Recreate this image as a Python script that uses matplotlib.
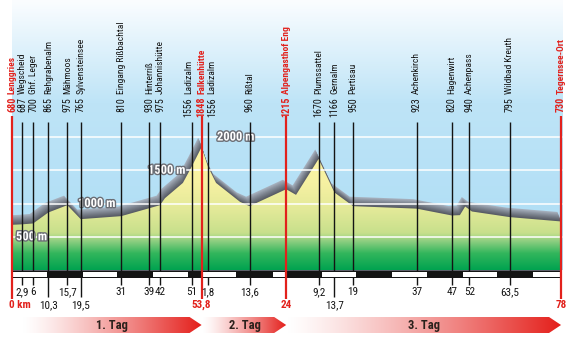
import matplotlib
matplotlib.use('Agg')
import numpy as np
import matplotlib.pyplot as plt
from matplotlib.patches import Polygon, Rectangle
import matplotlib.patheffects as pe
from matplotlib import font_manager as fm


def have_font(name):
    try:
        fm.findfont(fm.FontProperties(family=name), fallback_to_default=False)
        return True
    except Exception:
        return False


NARROW_CANDIDATES = ['Liberation Sans Narrow', 'Roboto Condensed', 'DejaVu Sans Condensed',
                     'Arial Narrow']
FONT_MAIN = None
for cand in NARROW_CANDIDATES:
    if have_font(cand):
        FONT_MAIN = cand
        break
if FONT_MAIN is None:
    FONT_MAIN = 'Liberation Sans' if have_font('Liberation Sans') else 'DejaVu Sans'
    FS = 0.86
else:
    FS = 1.0
plt.rcParams['font.family'] = [FONT_MAIN, 'DejaVu Sans']

# ---------------- data ----------------
stage_names = ['1. Tag', '2. Tag', '3. Tag']
stage_lengths = [53.8, 24, 78]

s1_km = [0, 2.9, 6, 10.3, 15.7, 19.5, 31, 39, 42, 51, 53.8]
s1_elev = [680, 687, 700, 865, 975, 765, 810, 930, 975, 1556, 1848]
s1_names = ['Lenggries', 'Wegscheid', 'Ghf. Leger', 'Rehgrabenalm', 'Mähmoos',
            'Sylvensteinsee', 'Eingang Rißbachtal', 'Hinterriß', 'Johannishütte',
            'Ladizalm', 'Falkenhütte']
s1_row = [2, 1, 1, 2, 1, 2, 1, 1, 1, 1, 2]

s2_km = [1.8, 13.6, 24]
s2_elev = [1556, 960, 1215]
s2_names = ['Ladizalm', 'Rißtal', 'Alpengasthof Eng']
s2_row = [1, 1, 2]

s3_km = [9.2, 13.7, 19, 37, 47, 52, 63.5, 78]
s3_elev = [1670, 1166, 950, 923, 820, 940, 795, 730]
s3_names = ['Plumssattel', 'Gernalm', 'Pertisau', 'Achenkirch', 'Hagenwirt',
            'Achenpass', 'Wildbad Kreuth', 'Tegernsee-Ort']
s3_row = [1, 2, 1, 1, 1, 1, 1, 2]

# elevation profile along the whole route (cumulative km)
profile_km = [0, 2.9, 6, 10.3, 15.7, 19.5, 31, 39, 42, 43.4, 48.5, 51, 53.8,
              55.6, 57.9, 64.7, 67.4, 77.8, 80.6, 87.0, 91.5, 96.8, 114.8,
              124.8, 127.1, 128.6, 130.5, 141.3, 155.8]
profile_m = [680, 687, 700, 865, 975, 765, 810, 930, 975, 1080, 1310, 1556, 1848,
             1556, 1310, 1025, 960, 1215, 1130, 1670, 1166, 960, 923,
             820, 825, 955, 880, 795, 730]

grid_levels = [500, 1000, 1500, 2000]

# ---------------- layout helpers ----------------
PX_PER_KM = 3.524
M_PER_PX = 15.04
def X(px):
    return (px - 12) / PX_PER_KM
def Y(py):
    return (270 - py) * M_PER_PX

RED = '#e2211c'
BLACK = '#141414'

fig = plt.figure(figsize=(5.84, 3.38), dpi=100)
ax = fig.add_axes([0, 0, 1, 1])
ax.set_axis_off()

total = sum(stage_lengths)
offsets = np.concatenate([[0], np.cumsum(stage_lengths)[:-1]])
sky_right = X(562)

# sky gradient
sky_top = np.array([251, 253, 255]) / 255
sky_mid = np.array([190, 228, 247]) / 255
sky_bot = np.array([172, 221, 245]) / 255
t = np.linspace(0, 1, 270)[:, None]
sky = np.where(t < 0.38, sky_top + (sky_mid - sky_top) * (t / 0.38),
               sky_mid + (sky_bot - sky_mid) * ((t - 0.38) / 0.62))
ax.imshow(sky.reshape(270, 1, 3), extent=(0, sky_right, 0, Y(0)),
          aspect='auto', zorder=0, interpolation='bilinear')
sky_rect = Rectangle((0, 0), sky_right, Y(0), transform=ax.transData)

pk = np.array(profile_km)
pm = np.array(profile_m, dtype=float)

# shadow
n_layers = 10
dark = np.array([80, 83, 92]) / 255
light = np.array([165, 175, 188]) / 255
for k in range(n_layers, 0, -1):
    f = k / n_layers
    col = dark + (light - dark) * f ** 1.2
    poly = ax.fill_between(pk - 1.1 * f, 0, pm + 150 * f, color=col, lw=0, zorder=1)
    poly.set_clip_path(sky_rect)

# terrain gradient
stops_m = [0, 250, 430, 560, 900, 1300, 2000]
stops_c = np.array([[0, 163, 80], [50, 182, 92], [140, 206, 128], [200, 224, 140],
                    [226, 233, 152], [246, 241, 162], [255, 246, 165]]) / 255
ys = np.linspace(2000, 0, 400)
grad = np.stack([np.interp(ys, stops_m, stops_c[:, i]) for i in range(3)], axis=-1)
terrain_poly = Polygon(np.column_stack([np.r_[pk, pk[-1], pk[0]], np.r_[pm, 0, 0]]),
                       closed=True, fc='none', ec='none', transform=ax.transData)
ax.add_patch(terrain_poly)
im = ax.imshow(grad[:, None, :], extent=(0, total, 0, 2000), aspect='auto',
               zorder=2, interpolation='bilinear')
im.set_clip_path(terrain_poly)

# grid lines and labels
label_px = {500: 16, 1000: 78, 1500: 148, 2000: 217}
for g in grid_levels:
    ax.plot([0, sky_right], [g, g], color='white', lw=1.1, zorder=3)
    ax.text(X(label_px[g]), g, f'{g} m', color='white', fontsize=9 * FS,
            fontweight='bold', va='center', ha='left', zorder=4,
            path_effects=[pe.withStroke(linewidth=2, foreground='#6b6e75')])

# markers
markers = []
for si, (kms, els, nms, rows) in enumerate([(s1_km, s1_elev, s1_names, s1_row),
                                           (s2_km, s2_elev, s2_names, s2_row),
                                           (s3_km, s3_elev, s3_names, s3_row)]):
    off = offsets[si]
    for k, e, n, r in zip(kms, els, nms, rows):
        is_end = (k == 0) or (k == stage_lengths[si])
        markers.append((off + k, k, e, n, is_end, r))

# small horizontal nudges (px) for crowded top labels
nudge_px = {('Ladizalm', 51): -3, ('Ladizalm', 1.8): 4}

# scale bar (alternating 10 km segments)
ax.add_patch(Rectangle((0, Y(278)), total, Y(270.5) - Y(278), fc=BLACK, ec='none', zorder=6))
cidx = 0
for off, L in zip(offsets, stage_lengths):
    s = 0
    while s < L - 1e-9:
        e = min(s + 10, L)
        if cidx % 2 == 0:
            ax.add_patch(Rectangle((off + s + 0.15, Y(276.5)), e - s - 0.3,
                                   Y(272.2) - Y(276.5), fc='white', ec='none', zorder=7))
        cidx += 1
        s = e

for cum, k, e, n, is_end, r in markers:
    if is_end:
        ax.plot([cum, cum], [Y(116), Y(299)], color=RED, lw=1.6, zorder=8,
                solid_capstyle='butt')
    else:
        ax.plot([cum, cum], [Y(122), Y(285 if r == 1 else 297)], color=BLACK,
                lw=1.0, zorder=5, solid_capstyle='butt')
    col = RED if is_end else BLACK
    fw = 'bold' if is_end else 'normal'
    tx = cum + nudge_px.get((n, k), 0) / PX_PER_KM
    ax.text(tx, Y(97), f'{e}', rotation=90, ha='center', va='top', fontsize=7.2 * FS,
            color=col, fontweight=fw, zorder=9)
    ax.text(tx, Y(94), n, rotation=90, ha='center', va='bottom', fontsize=6.8 * FS,
            color=col, fontweight=fw, zorder=9)
    lab = f'{k:g}'.replace('.', ',')
    if cum == 0:
        ax.text(X(9), Y(305), '0 km', ha='left', va='center', fontsize=8 * FS,
                color=RED, fontweight='bold', zorder=9)
    else:
        ax.text(cum, Y(292 if r == 1 else 305), lab, ha='center', va='center',
                fontsize=8 * FS, color=col, fontweight=fw, zorder=9)

# stage arrows with white->red gradient
arrow_px = [(23, 201), (203, 285), (287, 561)]
red_rgb = np.array([228, 30, 26]) / 255
tt = np.linspace(0, 1, 256)
for name, off, L, (x0p, x1p) in zip(stage_names, offsets, stage_lengths, arrow_px):
    x0, x1 = X(x0p), off + L
    head = 12 / PX_PER_KM
    ytop, ybot, ymid = Y(317), Y(333), Y(325)
    verts = [(x0, ytop), (x1 - head, ytop), (x1, ymid), (x1 - head, ybot), (x0, ybot)]
    arr = Polygon(verts, closed=True, fc='none', ec='none', transform=ax.transData)
    ax.add_patch(arr)
    w = tt ** 1.25
    g = np.ones((1, 256, 3)) * (1 - w)[None, :, None] + red_rgb[None, None, :] * w[None, :, None]
    im2 = ax.imshow(g, extent=(x0, x1, ybot, ytop), aspect='auto', zorder=6,
                    interpolation='bilinear')
    im2.set_clip_path(arr)
    ax.text((x0 + x1) / 2, ymid, name, ha='center', va='center', fontsize=9 * FS,
            fontweight='bold', color='#2b211c', zorder=9)

ax.set_xlim(X(0), X(584))
ax.set_ylim(Y(338), Y(0))
fig.savefig('out.png', dpi=100)
